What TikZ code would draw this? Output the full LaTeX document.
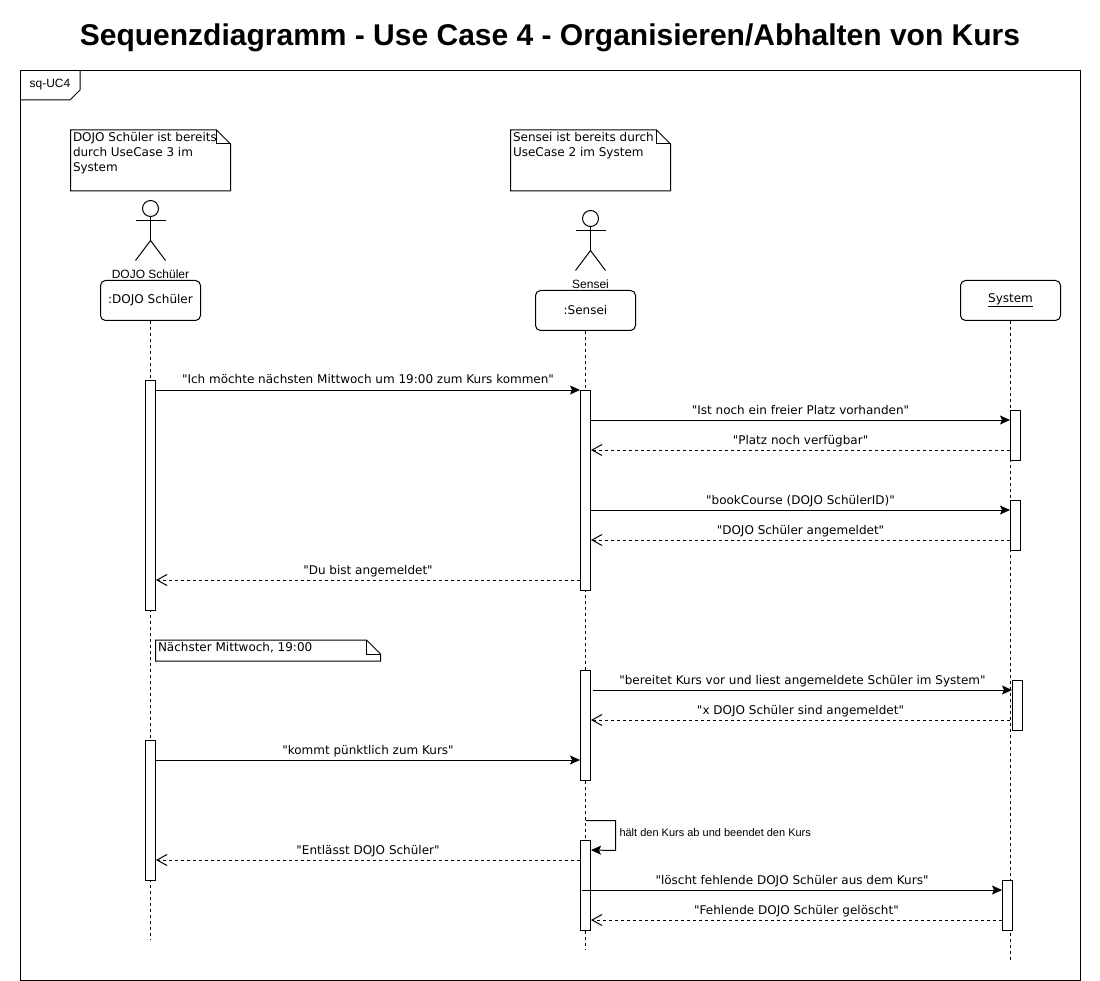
\documentclass[tikz,border=0pt]{standalone}
\usepackage{fontspec}
\setmainfont{DejaVu Sans}[Ligatures=TeXOff]
\newfontfamily\arialfont{Liberation Sans}
\usetikzlibrary{calc,arrows.meta}
\tikzstyle{frame} = [draw, rectangle, minimum width=1060pt, minimum height=910pt, inner sep=0pt]
\tikzstyle{headbox} = [
    draw,
    fill=white,
    rectangle,
    rounded corners=5pt,
    minimum width=100pt,
    minimum height=40pt,
    font=\fontsize{12}{14}\selectfont
    ]
\tikzstyle{activation} = [draw, fill=white, rectangle, minimum width=10pt, inner sep=0pt]
\tikzstyle{lifeline} = [dash pattern=on 3pt off 3pt]
\tikzstyle{note} = [inner sep=2pt, font=\fontsize{12}{15}\selectfont]
\tikzstyle{actorname} = [inner sep=0pt, font=\arialfont\fontsize{12}{14}\selectfont]
\tikzstyle{msg} = [-{Stealth[length=10pt,width=9pt,inset=2pt]}]
\tikzstyle{reply} = [lifeline, -{Straight Barb[length=10pt,width=11pt]}]
\tikzstyle{msgtext} = [midway, above, inner sep=2.5pt, text height=9pt, text depth=3pt, font=\fontsize{12}{14}\selectfont]
% stick figure: x, y of the head centre
\newcommand{\stickman}[2]{
    \draw (#1,#2) circle (8pt);
    \draw (#1,#2+8) -- (#1,#2+32);
    \draw (#1-15,#2+12) -- (#1+15,#2+12);
    \draw (#1-15,#2+52) -- (#1,#2+32) -- (#1+15,#2+52);
}
% outline and fold of a note node
\newcommand{\notefold}[1]{
    \draw ($(#1.north east)+(-14,0)$) -- (#1.north west) -- (#1.south west) -- (#1.south east)
        -- ($(#1.north east)+(0,14)$) -- cycle;
    \draw ($(#1.north east)+(-14,0)$) -- ($(#1.north east)+(-14,14)$) -- ($(#1.north east)+(0,14)$);
}

\begin{document}
\begin{tikzpicture}[x=1pt,y=-1pt,line width=1pt]
\useasboundingbox (0,0) rectangle (1100,981);

\node [inner sep=0pt, font=\arialfont\bfseries\fontsize{30}{34}\selectfont] (title) at (550,38) {Sequenzdiagramm - Use Case 4 - Organisieren/Abhalten von Kurs};

\node [frame] (umlframe) at (550.5,525.5) {};
\draw ($(umlframe.north west)+(60,0)$) -- ++(0,20) -- ++(-10,10) -- ($(umlframe.north west)+(0,30)$);
\node [inner sep=0pt, font=\arialfont\fontsize{12}{14}\selectfont] (framelabel) at (50,85) {sq-UC4};

% notes
\node [note] (noteSchueler) at (150.5,160.5) {%
    \begin{minipage}[c][56pt][t]{155pt}\raggedright
    DOJO Schüler ist bereits \\
    durch UseCase 3 im \\
    System
    \end{minipage}
};
\notefold{noteSchueler}
\node [note] (noteSensei) at (590.5,160.5) {%
    \begin{minipage}[c][56pt][t]{155pt}\raggedright
    Sensei ist bereits durch \\
    UseCase 2 im System
    \end{minipage}
};
\notefold{noteSensei}
\node [note] (noteNext) at (268,650.5) {%
    \begin{minipage}[c][16pt][t]{220pt}\raggedright
    Nächster Mittwoch, 19:00
    \end{minipage}
};
\notefold{noteNext}

% actors
\stickman{150.5}{208.5}
\node [actorname] (nameSchueler) at (150.5,274) {DOJO Schüler};
\stickman{590.5}{218.5}
\node [actorname] (nameSensei) at (590.5,284) {Sensei};

% lifelines
\node [headbox] (schueler) at (150.5,300.5) {:DOJO Schüler};
\node [headbox] (sensei) at (585.5,310.5) {:Sensei};
\node [headbox] (system) at (1010.5,300.5) {\underline{System}};
\coordinate (endSchueler) at (150.5,940);
\coordinate (endSensei) at (585.5,950);
\coordinate (endSystem) at (1010.5,960);
\draw [lifeline] (schueler.south) -- (endSchueler);
\draw [lifeline] (sensei.south) -- (endSensei);
\draw [lifeline] (system.south) -- (endSystem);

% activation bars
\node [activation, minimum height=230pt] (barSchuelerA) at (150.5,495.5) {};
\node [activation, minimum height=140pt] (barSchuelerB) at (150.5,810.5) {};
\node [activation, minimum height=200pt] (barSenseiA) at (585.5,490.5) {};
\node [activation, minimum height=110pt] (barSenseiB) at (585.5,725.5) {};
\node [activation, minimum height=90pt] (barSenseiC) at (585.5,885.5) {};
\node [activation, minimum height=50pt] (barSystemA) at (1015.5,435.5) {};
\node [activation, minimum height=50pt] (barSystemB) at (1015.5,525.5) {};
\node [activation, minimum height=50pt] (barSystemC) at (1017.5,705.5) {};
\node [activation, minimum height=50pt] (barSystemD) at (1007.5,905.5) {};

% messages
\draw [msg] ($(barSchuelerA.north east)+(0,10)$) -- node [msgtext] (msgComing) {"Ich möchte nächsten Mittwoch um 19:00 zum Kurs kommen"} (barSenseiA.north west);
\draw [msg] ($(barSenseiA.east |- barSystemA.north)+(0,10)$) -- node [msgtext] (msgPlace) {"Ist noch ein freier Platz vorhanden"} ($(barSystemA.north west)+(0,10)$);
\draw [reply] ($(barSystemA.north west)+(0,40)$) -- node [msgtext] (msgFree) {"Platz noch verfügbar"} ($(barSenseiA.east |- barSystemA.north)+(0,40)$);
\draw [msg] ($(barSenseiA.east |- barSystemB.north)+(0,10)$) -- node [msgtext] (msgBook) {"bookCourse (DOJO SchülerID)"} ($(barSystemB.north west)+(0,10)$);
\draw [reply] ($(barSystemB.north west)+(0,40)$) -- node [msgtext] (msgBooked) {"DOJO Schüler angemeldet"} ($(barSenseiA.east |- barSystemB.north)+(0,40)$);
\draw [reply] ($(barSenseiA.south west)+(0,-11)$) -- node [msgtext] (msgDone) {"Du bist angemeldet"} ($(barSchuelerA.east |- barSenseiA.south)+(0,-11)$);
\draw [msg] ($(barSenseiB.east |- barSystemC.north)+(2,10)$) -- node [msgtext] (msgPrepare) {"bereitet Kurs vor und liest angemeldete Schüler im System"} ($(barSystemC.north west)+(0,10)$);
\draw [reply] ($(barSystemC.north west)+(-2,40)$) -- node [msgtext] (msgCount) {"x DOJO Schüler sind angemeldet"} ($(barSenseiB.east |- barSystemC.north)+(0,40)$);
\draw [msg] ($(barSchuelerB.north east)+(0,20)$) -- node [msgtext] (msgArrive) {"kommt pünktlich zum Kurs"} ($(barSenseiB.west |- barSchuelerB.north)+(0,20)$);

\coordinate (loopStart) at (585.5,820.5);
\draw [msg] (loopStart) -- ++(30,0) -- ++(0,30) -- ($(barSenseiC.north east)+(0,10)$);
\node [anchor=west, inner sep=0pt, font=\arialfont\fontsize{11}{13}\selectfont] (loopText) at (619,833) {hält den Kurs ab und beendet den Kurs};

\draw [reply] ($(barSenseiC.north west)+(0,20)$) -- node [msgtext] (msgDismiss) {"Entlässt DOJO Schüler"} ($(barSchuelerB.east |- barSenseiC.north)+(0,20)$);
\draw [msg] ($(barSenseiC.west |- barSystemD.north)+(2,10)$) -- node [msgtext] (msgDelete) {"löscht fehlende DOJO Schüler aus dem Kurs"} ($(barSystemD.north west)+(0,10)$);
\draw [reply] ($(barSystemD.north west)+(0,40)$) -- node [msgtext] (msgDeleted) {"Fehlende DOJO Schüler gelöscht"} ($(barSenseiC.east |- barSystemD.north)+(0,40)$);
\end{tikzpicture}
\end{document}
